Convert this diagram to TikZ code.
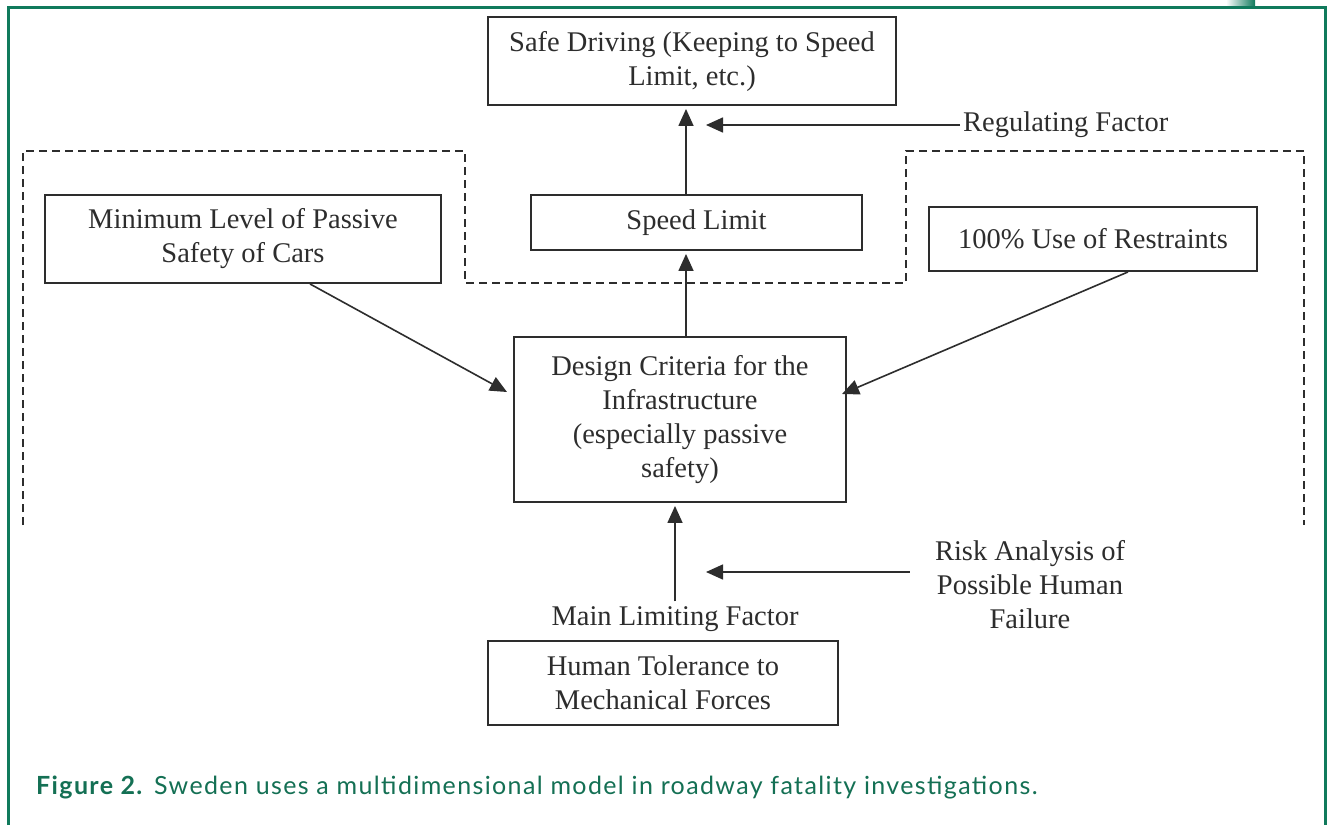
\documentclass[tikz,border=0pt]{standalone}
\usepackage{fontspec}
\setmainfont{Liberation Serif}
\newfontfamily\capfont[LetterSpace=5.5]{Lato}
\usetikzlibrary{arrows.meta,calc}
\definecolor{fgreen}{RGB}{16,122,92}
\definecolor{capgreen}{RGB}{20,112,84}
\definecolor{ink}{RGB}{45,45,45}
\tikzset{
  box/.style={draw=ink,line width=1.9pt,inner sep=0pt,align=center,
    font=\fontsize{28.5}{34}\selectfont,text=ink},
  lbl/.style={inner sep=0pt,align=center,font=\fontsize{28.5}{34}\selectfont,text=ink},
  arr/.style={draw=ink,line width=1.6pt,-{Triangle[length=17pt,width=15pt]}},
  dashline/.style={draw=ink,line width=1.6pt,dash pattern=on 8pt off 5pt},
}
\begin{document}
\begin{tikzpicture}[x=1pt,y=-1pt]
\useasboundingbox (0,0) rectangle (1330,825);
\fill[white] (0,0) rectangle (1330,825);
% green frame
\draw[fgreen,line width=3pt] (8,825) -- (8,7) -- (1325,7) -- (1325,825);
\shade[left color=white,right color=fgreen] (1226,0) rectangle (1255,5.5);
% dashed outline
\draw[dashline] (23,525) -- (23,151) -- (465,151) -- (465,283) -- (906,283) -- (906,151) -- (1304,151) -- (1304,525);
% boxes
\node[box,minimum width=408pt,minimum height=88pt] (safe) at (692,61) {Safe Driving (Keeping to Speed\\Limit, etc.)};
\node[box,minimum width=331pt,minimum height=55pt] (speed) at (696.5,222.5) {Speed Limit};
\node[box,minimum width=396pt,minimum height=88pt] (min) at (243,239) {Minimum Level of Passive\\Safety of Cars};
\node[box,minimum width=328pt,minimum height=64pt] (restr) at (1093,239) {100\% Use of Restraints};
\node[box,minimum width=332pt,minimum height=165pt] (design) at (680,419.5) {Design Criteria for the\\Infrastructure\\(especially passive\\safety)};
\node[box,minimum width=350pt,minimum height=84pt] (human) at (663,683) {Human Tolerance to\\Mechanical Forces};
% labels
\node[lbl,anchor=west] (reg) at (963,125) {Regulating Factor};
\node[lbl] (risk) at (1030,585) {Risk Analysis of\\Possible Human\\Failure};
\node[lbl] (main) at (675,619) {Main Limiting Factor};
% free ends
\coordinate (regtip) at (706,125);
\coordinate (risktip) at (706,572);
\coordinate (lefttip) at (507,392);
\coordinate (righttip) at (842,394);
% connectors
\draw[arr] ([xshift=-10.5pt]speed.north) -- ([xshift=-6pt,yshift=-3pt]safe.south);
\draw[arr] ([xshift=-3pt]reg.west |- regtip) -- (regtip);
\draw[arr] ([xshift=6pt]design.north) -- ([xshift=-10.5pt,yshift=-3pt]speed.south);
\draw[arr] ([xshift=67pt]min.south) -- (lefttip);
\draw[arr] ([xshift=35pt]restr.south) -- (righttip);
\draw[arr] ([yshift=5pt]main.north) -- ([xshift=-5pt,yshift=-3pt]design.south);
\draw[arr] ([xshift=-25pt]risk.west |- risktip) -- (risktip);
% caption
\node[anchor=base west,inner sep=0pt,text=capgreen,font=\capfont\fontsize{25}{30}\selectfont] (cap) at (36,794) {\textbf{Figure 2.} Sweden uses a multidimensional model in roadway fatality investigations.};
\end{tikzpicture}
\end{document}
